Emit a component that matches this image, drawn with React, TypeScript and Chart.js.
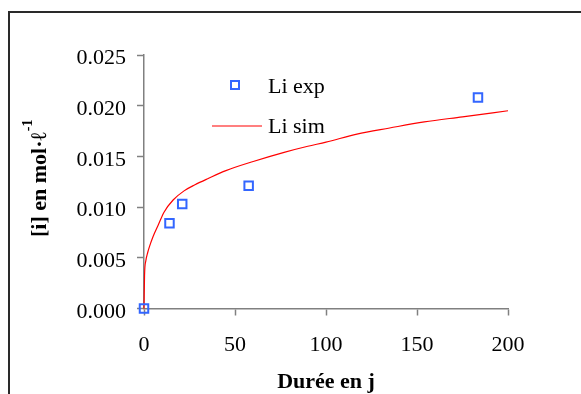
import React, { useEffect, useRef } from "react";
import { Chart, registerables } from "chart.js";

Chart.register(...registerables);

// Experimental points (Li exp)
const expDays = [0, 14, 21, 57.5, 183.5];
const expConc = [0.0, 0.0084, 0.0103, 0.0121, 0.0208];

// Simulated curve (Li sim)
const simDays = [0, 0.3, 1, 2, 3, 5, 8, 11, 16, 22, 28, 35, 45, 60, 77, 90, 100, 117, 135, 154, 175, 200];
const simConc = [0, 0.0033, 0.0047, 0.0055, 0.0061, 0.0071, 0.0083, 0.0095, 0.0107, 0.0116, 0.0122, 0.0128, 0.0136, 0.0145, 0.0154, 0.016, 0.0164, 0.0172, 0.0178, 0.0184, 0.0189, 0.0195];

const xTicks = [0, 50, 100, 150, 200];
const yTicks = [0, 0.005, 0.01, 0.015, 0.02, 0.025];

const labelExp = "Li exp";
const labelSim = "Li sim";
const xTitle = "Durée en j";
const yTitleMain = "[i] en mol·ℓ";
const yTitleSup = "-1";

const SERIF = '"Liberation Serif", "Times New Roman", serif';
const EXP_COLOR = "#3366FF";
const SIM_COLOR = "#FF0000";
const AXIS_COLOR = "#808080";

const decorPlugin = {
  id: "decor",
  beforeDraw(chart: any) {
    const ctx = chart.ctx;
    ctx.save();
    ctx.fillStyle = "#ffffff";
    ctx.fillRect(0, 0, chart.width, chart.height);
    // outer frame
    ctx.strokeStyle = "#2a2a2a";
    ctx.lineWidth = 2;
    ctx.beginPath();
    ctx.moveTo(9, chart.height + 2);
    ctx.lineTo(9, 12);
    ctx.lineTo(chart.width + 2, 12);
    ctx.stroke();
    ctx.restore();
  },
  afterDraw(chart: any) {
    const ctx = chart.ctx;
    const area = chart.chartArea;
    ctx.save();
    // y axis title with superscript
    ctx.fillStyle = "#000";
    ctx.textBaseline = "alphabetic";
    ctx.font = `bold 22px ${SERIF}`;
    const mw = ctx.measureText(yTitleMain).width;
    ctx.font = `bold 14px ${SERIF}`;
    const sw = ctx.measureText(yTitleSup).width;
    const total = mw + sw;
    const cy = (area.top + area.bottom) / 2 - 3;
    ctx.translate(area.left - 98, cy);
    ctx.rotate(-Math.PI / 2);
    ctx.font = `bold 22px ${SERIF}`;
    ctx.textAlign = "left";
    ctx.fillText(yTitleMain, -total / 2, 0);
    ctx.font = `bold 14px ${SERIF}`;
    ctx.fillText(yTitleSup, -total / 2 + mw + 1, -14);
    ctx.restore();

    // legend inside plot area
    ctx.save();
    const lx = area.left + 91;
    const ly1 = area.top + 30;
    const ly2 = area.top + 71;
    ctx.strokeStyle = EXP_COLOR;
    ctx.lineWidth = 2;
    ctx.strokeRect(lx - 4, ly1 - 4, 8, 8);
    ctx.strokeStyle = SIM_COLOR;
    ctx.lineWidth = 1.2;
    ctx.beginPath();
    ctx.moveTo(area.left + 68, ly2);
    ctx.lineTo(area.left + 118, ly2);
    ctx.stroke();
    ctx.fillStyle = "#000";
    ctx.font = `22px ${SERIF}`;
    ctx.textAlign = "left";
    ctx.textBaseline = "alphabetic";
    ctx.fillText(labelExp, area.left + 124, ly1 + 8);
    ctx.fillText(labelSim, area.left + 124, ly2 + 7);
    ctx.restore();
  },
};

export default function App() {
  const ref = useRef<HTMLCanvasElement | null>(null);
  useEffect(() => {
    if (!ref.current) return;
    document.body.style.overflow = "hidden";
    const chart = new Chart(ref.current, {
      type: "scatter",
      data: {
        datasets: [
          {
            label: labelExp,
            data: expDays.map((d, i) => ({ x: d, y: expConc[i] })),
            pointStyle: "rect",
            pointRadius: 6,
            pointBorderWidth: 2,
            pointBorderColor: EXP_COLOR,
            pointBackgroundColor: "rgba(255,255,255,0)",
            showLine: false,
            clip: false,
          } as any,
          {
            label: labelSim,
            type: "line",
            data: simDays.map((d, i) => ({ x: d, y: simConc[i] })),
            borderColor: SIM_COLOR,
            borderWidth: 1.2,
            pointRadius: 0,
            cubicInterpolationMode: "monotone",
            fill: false,
            clip: false,
          } as any,
        ],
      },
      options: {
        animation: false,
        responsive: false,
        maintainAspectRatio: false,
        layout: { padding: { left: 0, top: 55, right: 73, bottom: 0 } },
        plugins: {
          legend: { display: false },
          tooltip: { enabled: false },
        },
        scales: {
          x: {
            type: "linear",
            min: 0,
            max: 200,
            afterBuildTicks: (s: any) => {
              s.ticks = xTicks.map((v) => ({ value: v }));
            },
            afterFit: (s: any) => {
              s.height = 85.5;
            },
            border: { display: true, color: AXIS_COLOR, width: 1.5 },
            grid: {
              drawOnChartArea: false,
              drawTicks: true,
              tickLength: 7,
              tickColor: AXIS_COLOR,
              tickWidth: 1.5,
            },
            ticks: {
              color: "#000",
              font: { family: SERIF, size: 22 },
              padding: 17,
              maxRotation: 0,
              callback: (v: any) => String(v),
            },
            title: {
              display: true,
              text: xTitle,
              color: "#000",
              font: { family: SERIF, size: 22, weight: "bold", lineHeight: 1.2 },
              padding: { top: 0, bottom: -2 },
            },
          },
          y: {
            type: "linear",
            min: 0,
            max: 0.025,
            afterBuildTicks: (s: any) => {
              s.ticks = yTicks.map((v) => ({ value: v }));
            },
            afterFit: (s: any) => {
              s.width = 144;
            },
            border: { display: true, color: AXIS_COLOR, width: 1.5 },
            grid: {
              drawOnChartArea: false,
              drawTicks: true,
              tickLength: 7,
              tickColor: AXIS_COLOR,
              tickWidth: 1.5,
            },
            ticks: {
              color: "#000",
              font: { family: SERIF, size: 22 },
              padding: 11,
              labelOffset: 3.5,
              callback: (v: any) => Number(v).toFixed(3),
            },
          },
        },
      },
      plugins: [decorPlugin],
    });
    return () => chart.destroy();
  }, []);
  return (
    <div style={{ position: "absolute", left: 0, top: 0, width: 581, height: 394 }}>
      <canvas ref={ref} width={581} height={394} style={{ width: 581, height: 394 }} />
    </div>
  );
}
